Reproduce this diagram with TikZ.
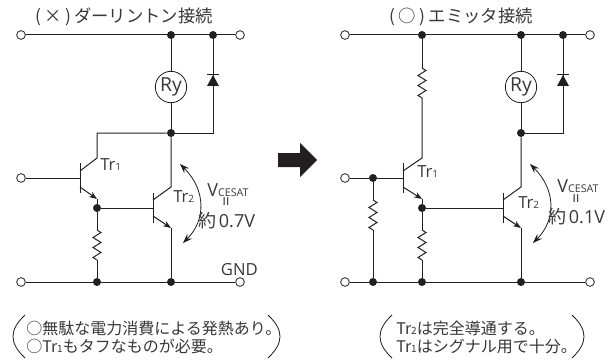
\documentclass[tikz,border=0pt]{standalone}
\usepackage{fontspec}
\setmainfont{Open Sans}
\newfontfamily\jpfont{Noto Sans CJK JP}
\usetikzlibrary{arrows.meta,decorations.pathmorphing,calc}
\definecolor{ink}{HTML}{231F20}
\definecolor{txt}{HTML}{3A3738}
\newcommand{\sbs}[1]{{\fontsize{7.5pt}{8pt}\selectfont #1}}
\newcommand{\sbv}[1]{{\fontsize{8pt}{9pt}\selectfont #1}}
\tikzset{
  x=0.75pt,y=-0.75pt,
  wire/.style={draw=ink,line width=0.75pt},
  em/.style={wire,-{Stealth[length=6pt,width=4.5pt]}},
  dotn/.style={circle,fill=ink,inner sep=0pt,minimum size=6pt},
  term/.style={circle,draw=ink,fill=white,line width=0.6pt,inner sep=0pt,minimum size=6.5pt},
  relay/.style={circle,draw=ink,fill=white,line width=0.6pt,inner sep=0pt,minimum size=23.5pt,font=\fontsize{14.5pt}{15pt}\selectfont,text=txt},
  res/.style={wire,decorate,decoration={zigzag,segment length=7.5pt,amplitude=3pt}},
  diode/.style={fill=ink,draw=none},
  vdrop/.style={draw=ink,line width=0.6pt,{Stealth[length=7pt,width=5pt]}-{Stealth[length=7pt,width=5pt]}},
  brk/.style={draw=ink,line width=0.6pt},
  lab/.style={text=txt,inner sep=0pt,font=\fontsize{12.5pt}{13pt}\selectfont},
  eqlab/.style={text=txt,inner sep=0pt,rotate=90,font=\fontsize{13pt}{14pt}\selectfont},
  vlab/.style={text=txt,inner sep=0pt,font=\fontsize{13.5pt}{14pt}\selectfont},
  title/.style={text=txt,inner sep=0pt,font=\jpfont\fontsize{13pt}{14pt}\selectfont},
  note/.style={text=txt,inner sep=0pt,anchor=west,font=\jpfont\fontsize{12pt}{13pt}\selectfont},
}
% output stage shared by both circuits: relay, diode, Tr2, rail ends
\newcommand{\stage}[2]{%
  \begin{scope}[shift={(#1,0)},name prefix=#2]
    \node[dotn] (topa) at (171,35) {};
    \node[dotn] (topb) at (213,35) {};
    \node[term] (rt) at (240,35) {};
    \node[dotn] (mid) at (171,133) {};
    \node[dotn] (gnda) at (171,282) {};
    \node[term] (rb) at (240,282) {};
    \node[relay] (ry) at (171,87) {Ry};
    \coordinate (dm) at (213,133);
    \coordinate (c2) at (171,187);
    \coordinate (c2b) at (153,200);
    \coordinate (e2b) at (153,216);
    \coordinate (e2) at (171,228);
    \coordinate (b2t) at (153,193);
    \coordinate (b2b) at (153,223);
    \coordinate (b2m) at (153,208);
    \draw[wire] (topa) -- (ry);
    \draw[wire] (ry) -- (mid);
    \draw[wire] (mid) -- (c2) -- (c2b);
    \draw[em] (e2b) -- (e2);
    \draw[wire] (e2) -- (gnda);
    \draw[wire] (b2t) -- (b2b);
    \draw[wire] (topb) -- (dm) -- (mid);
    \draw[wire] (topa) -- (topb) -- (rt);
    \draw[wire] (gnda) -- (rb);
    \path[diode] (207,86) -- (219,86) -- (213,75) -- cycle;
    \draw[wire] (207,75) -- (219,75);
    \draw[vdrop] (180,164) .. controls (206,190) and (206,220) .. (183,243);
  \end{scope}%
}
\begin{document}
\begin{tikzpicture}
\useasboundingbox (0,0) rectangle (614,360);
\fill[white] (0,0) rectangle (614,360);

% left circuit
\stage{0}{L}
\node[term] (La) at (21,35) {};
\node[term] (Lb) at (21,178) {};
\node[term] (Lc) at (21,282) {};
\node[dotn] (Le) at (97,208) {};
\node[dotn] (Lg) at (97,282) {};
\coordinate (Lc1a) at (97,133);
\coordinate (Lc1) at (97,158);
\coordinate (Lc1b) at (80,171);
\coordinate (Le1b) at (80,187);
\coordinate (Le1) at (97,199);
\coordinate (Lb1) at (80,178);
\coordinate (Lr1) at (97,230);
\coordinate (Lr2) at (97,260);
\draw[wire] (La) -- (Ltopa);
\draw[wire] (Lb) -- (Lb1);
\draw[wire] (Lc) -- (Lg) -- (Lgnda);
\draw[wire] (Lmid) -- (Lc1a) -- (Lc1) -- (Lc1b);
\draw[wire] (80,163) -- (80,193);
\draw[em] (Le1b) -- (Le1);
\draw[wire] (Le1) -- (Le);
\draw[wire] (Le) -- (Lb2m);
\draw[wire] (Le) -- (Lr1);
\draw[res] (Lr1) -- (Lr2);
\draw[wire] (Lr2) -- (Lg);

% right circuit
\stage{350}{R}
\node[term] (Ra) at (345,35) {};
\node[term] (Rb) at (345,178) {};
\node[term] (Rc) at (345,282) {};
\node[dotn] (Rt) at (422,35) {};
\node[dotn] (Rj) at (373,178) {};
\node[dotn] (Re) at (422,208) {};
\node[dotn] (Rg1) at (373,282) {};
\node[dotn] (Rg2) at (422,282) {};
\coordinate (Rc1) at (422,158);
\coordinate (Rc1b) at (403,171);
\coordinate (Re1b) at (403,187);
\coordinate (Re1) at (422,199);
\coordinate (Rb1) at (403,178);
\coordinate (Rq1) at (422,68);
\coordinate (Rq2) at (422,98);
\coordinate (Rs1) at (373,200);
\coordinate (Rs2) at (373,230);
\coordinate (Ru1) at (422,230);
\coordinate (Ru2) at (422,260);
\draw[wire] (Ra) -- (Rt) -- (Rtopa);
\draw[wire] (Rb) -- (Rj) -- (Rb1);
\draw[wire] (Rc) -- (Rg1) -- (Rg2) -- (Rgnda);
\draw[wire] (Rt) -- (Rq1);
\draw[res] (Rq1) -- (Rq2);
\draw[wire] (Rq2) -- (Rc1) -- (Rc1b);
\draw[wire] (403,163) -- (403,193);
\draw[em] (Re1b) -- (Re1);
\draw[wire] (Re1) -- (Re);
\draw[wire] (Re) -- (Rb2m);
\draw[wire] (Rj) -- (Rs1);
\draw[res] (Rs1) -- (Rs2);
\draw[wire] (Rs2) -- (Rg1);
\draw[wire] (Re) -- (Ru1);
\draw[res] (Ru1) -- (Ru2);
\draw[wire] (Ru2) -- (Rg2);

% big arrow
\fill[ink] (278,153) -- (300,153) -- (300,143) -- (317,160) -- (300,177) -- (300,167) -- (278,167) -- cycle;

% labels
\node[title,anchor=west] (t1) at (35,17) {(\hspace{2.5pt}×\hspace{2.5pt})\hspace{2.5pt}ダーリントン接続};
\node[title,anchor=west] (t2) at (389,17) {(\hspace{2.5pt}○\hspace{2.5pt})\hspace{3pt}エミッタ接続};
\node[lab,anchor=west] (l1) at (100,165) {Tr\sbs{1}};
\node[lab,anchor=west] (l2) at (173,197) {Tr\sbs{2}};
\node[lab,anchor=west] (r1) at (417,172) {Tr\sbs{1}};
\node[lab,anchor=west] (r2) at (518,203) {Tr\sbs{2}};
\node[lab,anchor=east] (gnd) at (258,270) {GND};

\node[vlab] (v1) at (228,190) {V\sbv{CESAT}};
\node[eqlab] (e1) at (228,202) {=};
\node[vlab,anchor=west] (u1) at (198,221) {{\jpfont 約}\hspace{2pt}0.7V};
\node[vlab] (v2) at (578,186) {V\sbv{CESAT}};
\node[eqlab] (e2) at (578,199) {=};
\node[vlab,anchor=west] (u2) at (548,217) {{\jpfont 約}\hspace{2pt}0.1V};

% notes
\node[note] (n1) at (26,328) {○無駄な電力消費による発熱あり。};
\node[note] (n2) at (26,346) {○Tr\sbs{1}もタフなものが必要。};
\node[note] (n3) at (396,328) {Tr\sbs{2}は完全導通する。};
\node[note] (n4) at (396,346) {Tr\sbs{1}はシグナル用で十分。};

\draw[brk] (25,315) .. controls (9,330) and (9,343) .. (25,358);
\draw[brk] (268,315) .. controls (284,330) and (284,343) .. (268,358);
\draw[brk] (392,315) .. controls (376,330) and (376,343) .. (392,358);
\draw[brk] (572,315) .. controls (588,330) and (588,343) .. (572,358);
\end{tikzpicture}
\end{document}
